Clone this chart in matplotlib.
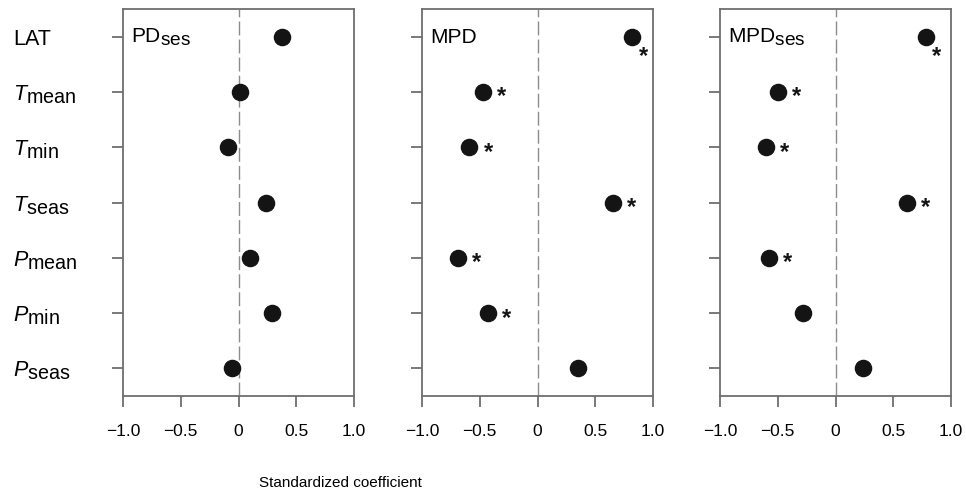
import matplotlib
matplotlib.use("Agg")
import matplotlib.pyplot as plt
import matplotlib._mathtext as mathtext_internals

# the subscripts in the original are nearly full size
mathtext_internals.SHRINK_FACTOR = 0.92

plt.rcParams['font.family'] = ['Liberation Sans', 'DejaVu Sans']
plt.rcParams['mathtext.fontset'] = 'custom'
plt.rcParams['mathtext.rm'] = 'Liberation Sans'
plt.rcParams['mathtext.it'] = 'Liberation Sans:italic'

predictors = [r'LAT', r'$\mathit{T}_{\mathrm{mean}}$', r'$\mathit{T}_{\mathrm{min}}$',
              r'$\mathit{T}_{\mathrm{seas}}$', r'$\mathit{P}_{\mathrm{mean}}$',
              r'$\mathit{P}_{\mathrm{min}}$', r'$\mathit{P}_{\mathrm{seas}}$']
panel_names = [r'PD$_{\mathrm{ses}}$', 'MPD', r'MPD$_{\mathrm{ses}}$']

pd_ses = [0.38, 0.01, -0.09, 0.24, 0.10, 0.29, -0.06]
mpd = [0.82, -0.47, -0.59, 0.65, -0.69, -0.43, 0.35]
mpd_ses = [0.78, -0.50, -0.60, 0.62, -0.58, -0.28, 0.24]

# significance flags (True -> asterisk)
sig_pd_ses = [False] * 7
sig_mpd = [True, True, True, True, True, True, False]
sig_mpd_ses = [True, True, True, True, True, False, False]

coefs = [pd_ses, mpd, mpd_ses]
sigs = [sig_pd_ses, sig_mpd, sig_mpd_ses]

xticks = [-1.0, -0.5, 0, 0.5, 1.0]
xticklabels = ['\u22121.0', '\u22120.5', '0', '0.5', '1.0']

fig = plt.figure(figsize=(9.66, 4.93), dpi=100)
lefts = [123, 422, 720]
W, H = 966, 493
spine_col = '#6e6e6e'

for i in range(3):
    ax = fig.add_axes([lefts[i] / W, 1 - 396 / H, 231 / W, 387 / H])
    y = list(range(len(predictors)))
    ax.axvline(0, color='#8c8c8c', lw=1.0, ls=(0, (10, 3)), zorder=1)
    ax.scatter(coefs[i], y, s=135, color='#141414', zorder=3)
    for j, v in enumerate(coefs[i]):
        if not sigs[i][j]:
            continue
        # the top-right star sits below the dot, the rest to the right
        off = (8, -14.4) if v > 0.75 else (13.5, -3.6)
        ax.annotate('*', (v, j), xytext=off, textcoords='offset points',
                    ha='center', va='center', fontsize=17, fontweight='bold',
                    color='#141414')
    ax.set_xlim(-1.0, 1.0)
    ax.set_ylim(6.5, -0.5)
    ax.set_xticks(xticks)
    ax.set_xticklabels(xticklabels, fontsize=12.5)
    ax.set_yticks(y)
    for s in ax.spines.values():
        s.set_color(spine_col)
        s.set_linewidth(1.3)
    ax.tick_params(axis='both', direction='out', length=8, width=1.3, color=spine_col)
    ax.tick_params(axis='x', pad=12)
    if i == 0:
        ax.set_yticklabels(predictors, fontsize=15.5)
        ax.tick_params(axis='y', pad=71)
        for lab in ax.get_yticklabels():
            lab.set_horizontalalignment('left')
    else:
        ax.set_yticklabels([])
    ax.text(0.035, 0.927, panel_names[i], transform=ax.transAxes, fontsize=15,
            ha='left', va='center')

fig.text(340 / W, 1 - 483 / H, 'Standardized coefficient', ha='center', va='center', fontsize=11)

fig.savefig('out.png', dpi=100)
